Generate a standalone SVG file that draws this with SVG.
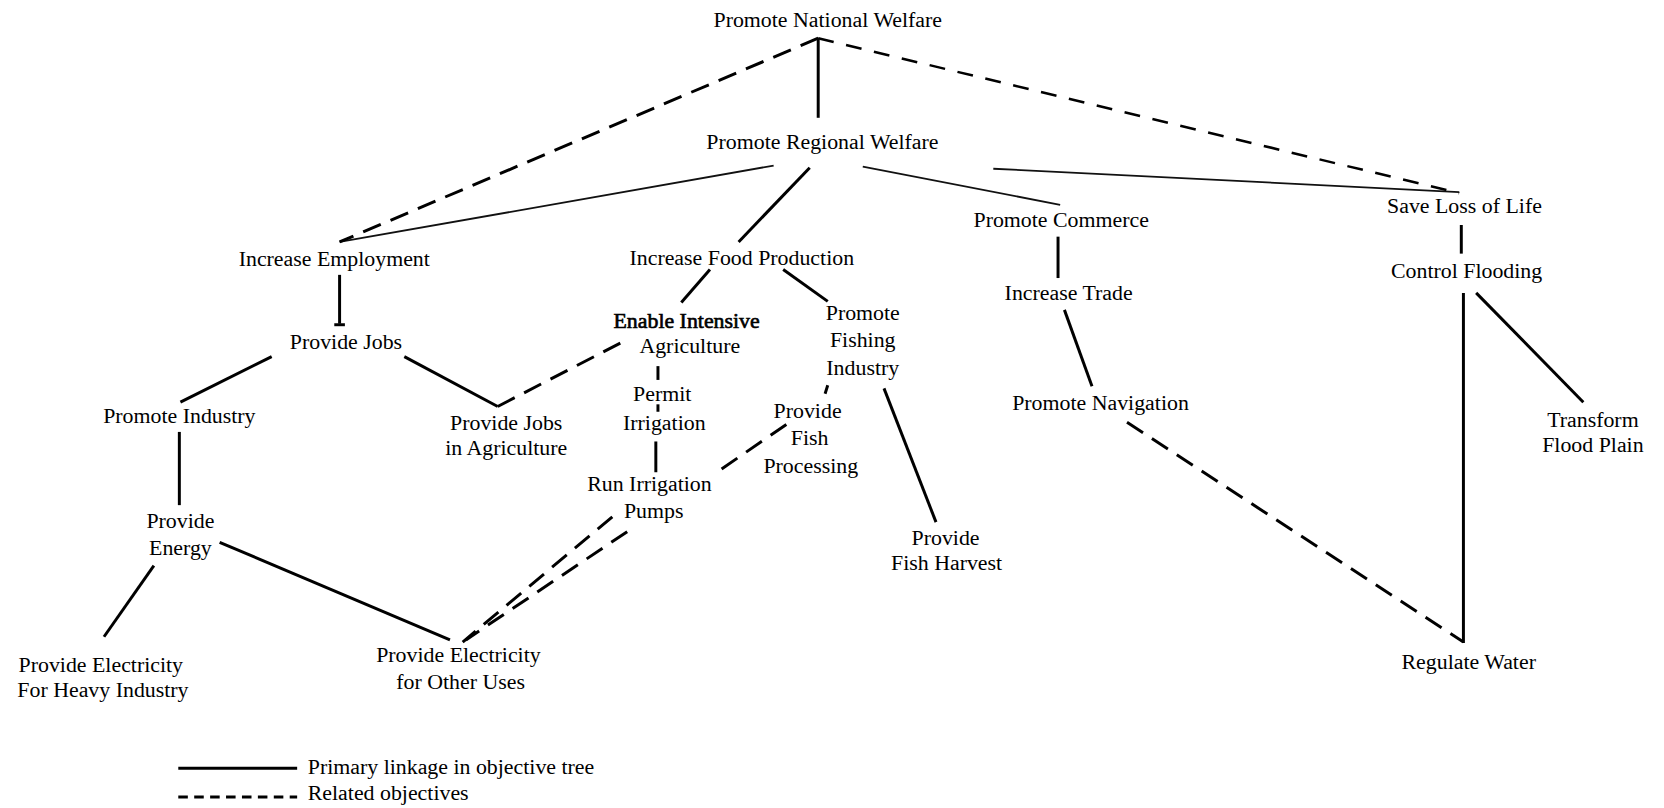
<svg xmlns="http://www.w3.org/2000/svg" width="1664" height="808" viewBox="0 0 1664 808">
  <style>
    text { font-family: "Liberation Serif", "DejaVu Serif", serif; font-size: 20.6px; fill: #000; text-anchor: middle; }
    text.legend { text-anchor: start; }
    text.heavy { stroke: #000; stroke-width: 0.6; }
    .primary { stroke: #000; stroke-width: 2.8; fill: none; stroke-linecap: butt; }
    .thin { stroke: #111; stroke-width: 1.7; fill: none; }
    .related { stroke: #000; stroke-width: 2.8; fill: none; stroke-dasharray: 18 10; }
    .related.fine { stroke-dasharray: 15 12; stroke-width: 2.4; }
    .related-legend { stroke: #000; stroke-width: 2.8; fill: none; stroke-dasharray: 9 6; }
  </style>
  <rect width="1664" height="808" fill="#fff"/>
  <!-- drawing laid out on a 1568-unit grid, scaled to the canvas -->
  <g transform="scale(1.06122)">
    <g id="connectors">
      <!-- primary linkages -->
      <line class="primary" x1="771" y1="36" x2="771" y2="111"/>
      <line class="primary" x1="763" y1="158" x2="696" y2="228"/>
      <line class="primary" x1="320" y1="259" x2="320" y2="305"/>
      <path class="primary" d="M315,306 L325,306" stroke-width="2.4"/>
      <line class="primary" x1="256" y1="336" x2="170" y2="379"/>
      <line class="primary" x1="381" y1="336" x2="469" y2="383"/>
      <line class="primary" x1="169" y1="407" x2="169" y2="476"/>
      <line class="primary" x1="145" y1="533" x2="98" y2="600"/>
      <line class="primary" x1="207" y1="511" x2="424" y2="603"/>
      <line class="primary" x1="669" y1="254" x2="642" y2="285"/>
      <line class="primary" x1="738" y1="254" x2="780" y2="284"/>
      <line class="primary" x1="618" y1="416" x2="618" y2="445"/>
      <line class="primary" x1="833" y1="366" x2="882" y2="492"/>
      <line class="primary" x1="997" y1="223" x2="997" y2="262"/>
      <line class="primary" x1="1003" y1="292" x2="1029" y2="364"/>
      <line class="primary" x1="1377" y1="212" x2="1377" y2="239"/>
      <line class="primary" x1="1379" y1="276" x2="1379" y2="606"/>
      <line class="primary" x1="1391" y1="276" x2="1492" y2="379"/>
      <!-- light linkages from regional welfare -->
      <line class="thin" x1="320" y1="228" x2="729" y2="156"/>
      <line class="thin" x1="813" y1="157" x2="999" y2="193"/>
      <line class="thin" x1="936" y1="159" x2="1375" y2="181"/>
      <!-- related objectives -->
      <line class="related" x1="771" y1="36" x2="320" y2="228"/>
      <line class="related fine" x1="771" y1="36" x2="1375" y2="182"/>
      <line class="related" x1="469" y1="383" x2="591" y2="320"/>
      <line class="related" x1="620" y1="345" x2="620" y2="358"/>
      <line class="related" x1="620" y1="381" x2="620" y2="388"/>
      <line class="related" x1="780" y1="363" x2="777.5" y2="371"/>
      <line class="related" x1="741" y1="400" x2="674" y2="446"/>
      <line class="related" x1="577" y1="487" x2="436" y2="605"/>
      <line class="related" x1="591" y1="501" x2="439" y2="603"/>
      <line class="related" x1="1062" y1="398" x2="1379" y2="605"/>
    </g>

    <g id="n-national"><text x="780" y="25">Promote National Welfare</text></g>
    <g id="n-regional"><text x="775" y="140">Promote Regional Welfare</text></g>
    <g id="n-employment"><text x="315" y="251">Increase Employment</text></g>
    <g id="n-food"><text x="699" y="250">Increase Food Production</text></g>
    <g id="n-commerce"><text x="1000" y="214">Promote Commerce</text></g>
    <g id="n-saveloss"><text x="1380" y="201">Save Loss of Life</text></g>
    <g id="n-flooding"><text x="1382" y="262">Control Flooding</text></g>
    <g id="n-trade"><text x="1007" y="283">Increase Trade</text></g>
    <g id="n-jobs"><text x="326" y="329">Provide Jobs</text></g>
    <g id="n-industry"><text x="169" y="399">Promote Industry</text></g>
    <g id="n-jobsagri">
      <text x="477" y="405">Provide Jobs</text>
      <text x="477" y="429">in Agriculture</text>
    </g>
    <g id="n-energy">
      <text x="170" y="498">Provide</text>
      <text x="170" y="523">Energy</text>
    </g>
    <g id="n-elec-heavy">
      <text x="95" y="633">Provide Electricity</text>
      <text x="97" y="657">For Heavy Industry</text>
    </g>
    <g id="n-elec-other">
      <text x="432" y="624">Provide Electricity</text>
      <text x="434" y="649">for Other Uses</text>
    </g>
    <g id="n-intensive">
      <text class="heavy" x="647" y="309">Enable Intensive</text>
      <text x="650" y="333">Agriculture</text>
    </g>
    <g id="n-fishing">
      <text x="813" y="302">Promote</text>
      <text x="813" y="327">Fishing</text>
      <text x="813" y="353">Industry</text>
    </g>
    <g id="n-permit">
      <text x="624" y="378">Permit</text>
      <text x="626" y="405">Irrigation</text>
    </g>
    <g id="n-pumps">
      <text x="612" y="463">Run Irrigation</text>
      <text x="616" y="488">Pumps</text>
    </g>
    <g id="n-processing">
      <text x="761" y="394">Provide</text>
      <text x="763" y="419">Fish</text>
      <text x="764" y="446">Processing</text>
    </g>
    <g id="n-harvest">
      <text x="891" y="514">Provide</text>
      <text x="892" y="537">Fish Harvest</text>
    </g>
    <g id="n-navigation"><text x="1037" y="386">Promote Navigation</text></g>
    <g id="n-floodplain">
      <text x="1501" y="402">Transform</text>
      <text x="1501" y="426">Flood Plain</text>
    </g>
    <g id="n-water"><text x="1384" y="630">Regulate Water</text></g>

    <g id="legend">
      <line class="primary" x1="168" y1="724" x2="280" y2="724"/>
      <text class="legend" x="290" y="729">Primary linkage in objective tree</text>
      <line class="related-legend" x1="168" y1="751" x2="280" y2="751"/>
      <text class="legend" x="290" y="754">Related objectives</text>
    </g>
  </g>
</svg>
